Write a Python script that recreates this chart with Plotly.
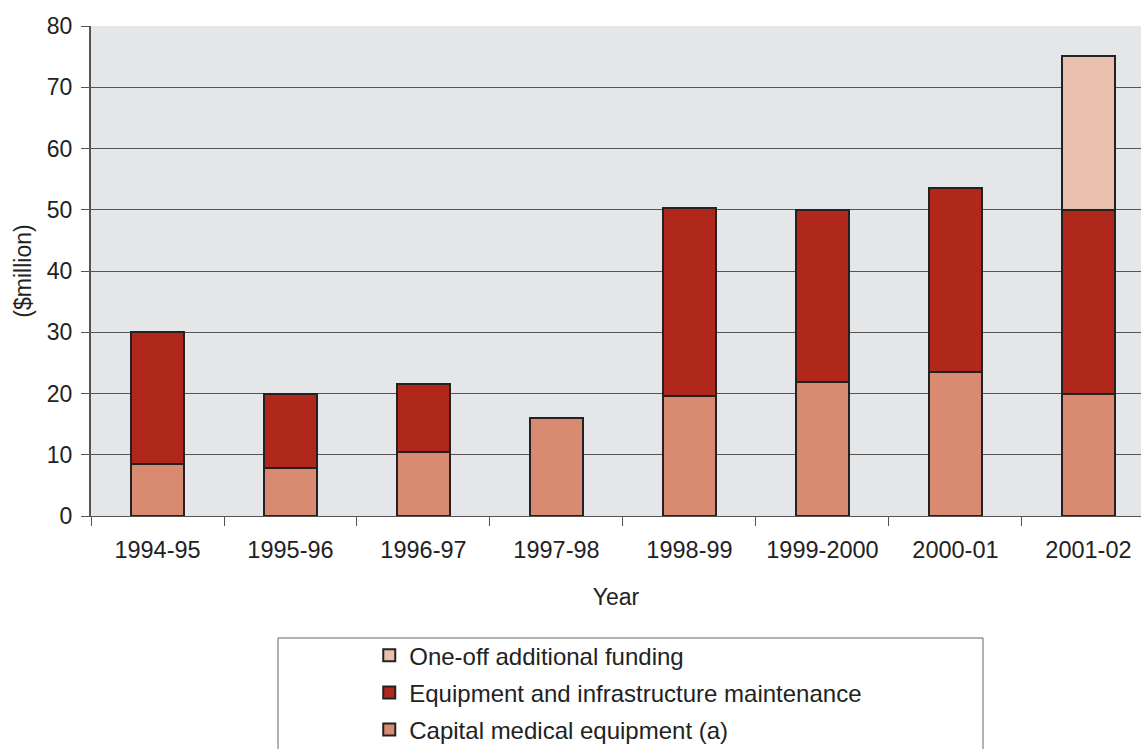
import plotly.graph_objects as go

years = ["1994-95", "1995-96", "1996-97", "1997-98", "1998-99", "1999-2000", "2000-01", "2001-02"]
capital_medical = [8.5, 7.8, 10.4, 16.0, 19.6, 21.9, 23.5, 20.0]
equipment_maint = [21.5, 12.2, 11.1, 0.0, 30.7, 28.1, 30.1, 30.0]
one_off = [0.0, 0.0, 0.0, 0.0, 0.0, 0.0, 0.0, 25.1]

series = [
    ("Capital medical equipment (a)", capital_medical, "#d98b72", 3),
    ("Equipment and infrastructure maintenance", equipment_maint, "#b0281c", 2),
    ("One-off additional funding", one_off, "#e9bfae", 1),
]

fig = go.Figure()
for name, vals, color, rank in series:
    fig.add_trace(go.Bar(
        x=years, y=vals, name=name, width=0.4,
        legendgroup=f"g{rank}", legendrank=rank,
        marker=dict(color=color, line=dict(color="#222222", width=2)),
    ))

font = "Liberation Sans, Arial, sans-serif"
fig.update_layout(
    width=1141, height=749,
    barmode="stack",
    paper_bgcolor="white",
    plot_bgcolor="#e5e6e8",
    margin=dict(l=91, r=0, t=26, b=233, autoexpand=False),
    font=dict(family=font, size=24, color="#222222"),
    showlegend=True,
    legend=dict(
        traceorder="grouped",
        tracegroupgap=3,
        x=0.265, xanchor="left",
        y=-0.239, yanchor="top",
        bgcolor="rgba(0,0,0,0)",
        font=dict(family=font, size=24, color="#222222"),
        itemwidth=30,
    ),
    xaxis=dict(
        type="category",
        range=[-0.5, 7.395],
        showline=True, linecolor="#555555", linewidth=1,
        ticks="outside", tickson="boundaries", ticklen=9, tickcolor="#555555",
        ticklabelstandoff=13,
        showgrid=False,
        title=dict(text="Year", standoff=26, font=dict(size=23)),
        tickfont=dict(size=23.5),
    ),
    yaxis=dict(
        range=[0, 80], dtick=10,
        showline=True, linecolor="#555555", linewidth=2,
        ticks="outside", ticklen=8, tickcolor="#555555",
        ticklabelstandoff=4,
        showgrid=True, gridcolor="#555555", gridwidth=1,
        zeroline=False,
        title=dict(text="($million)", standoff=9, font=dict(size=23)),
        tickfont=dict(size=23),
    ),
    shapes=[dict(
        type="rect", xref="paper", yref="paper",
        x0=(278 - 91) / 1050, x1=(983 - 91) / 1050,
        y0=-0.5, y1=(516 - 638) / 490,
        line=dict(color="#666666", width=1), fillcolor="rgba(0,0,0,0)",
    )],
)

fig.write_html("out.html")
